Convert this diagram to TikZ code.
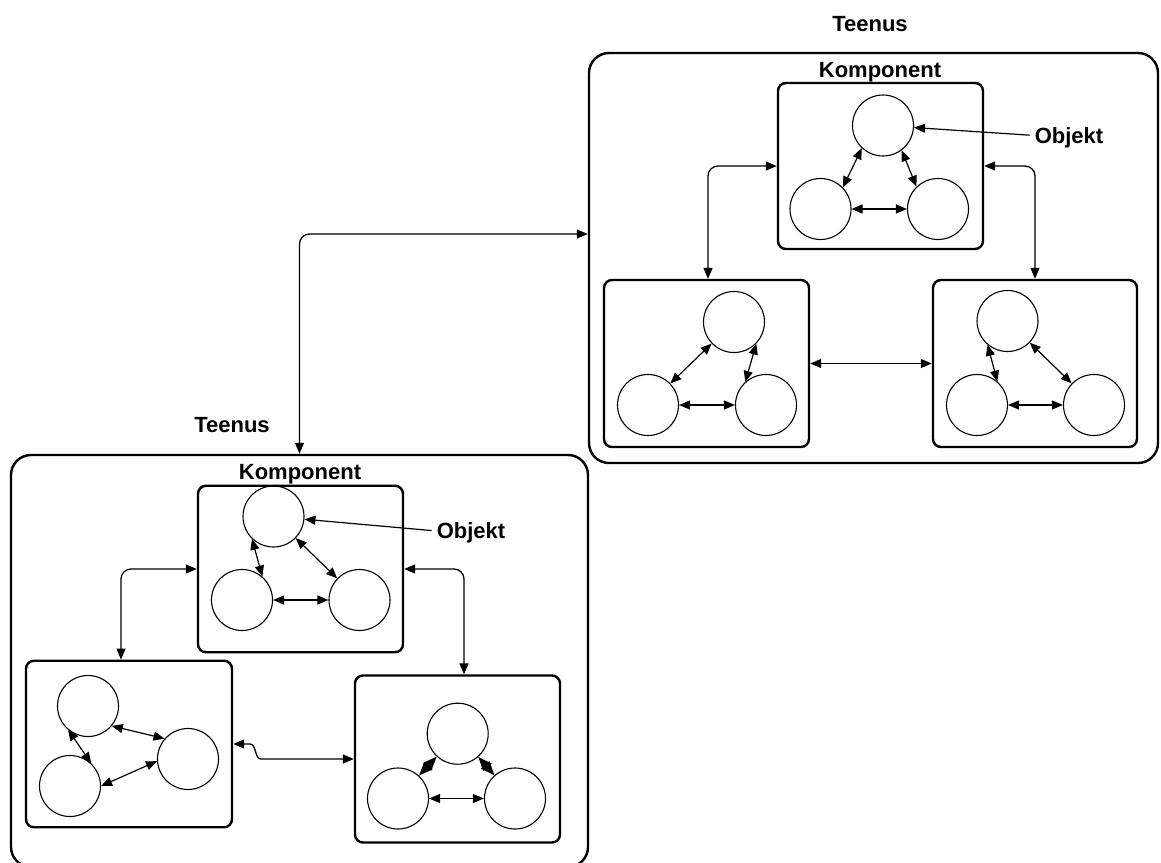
\documentclass[tikz,border=0pt]{standalone}
\usepackage{fontspec}
\setmainfont{Liberation Sans}
\usetikzlibrary{arrows.meta}

\begin{document}
\begin{tikzpicture}[x=1pt, y=-1pt,
  >={Triangle[length=11pt, width=9pt]},
  caption/.style={font=\bfseries\fontsize{22}{26}\selectfont, inner sep=0pt,
    text height=15.8pt, text depth=0pt},
  service/.style={draw, line width=2.4pt, rounded corners=20pt, inner sep=0pt},
  component/.style={draw, line width=2.4pt, rounded corners=8pt, inner sep=0pt},
  obj/.style={draw, circle, line width=1.1pt, minimum size=61pt, inner sep=0pt},
  link/.style={<->, line width=1.2pt},
  biglink/.style={<->, line width=1.2pt, >={Triangle[length=14pt, width=11pt]}},
  conn/.style={<->, line width=1.3pt, rounded corners=10pt},
  pointer/.style={->, line width=1.2pt, shorten <=5pt}]

\useasboundingbox (0,0) rectangle (1161,862);
\fill[white] (0,0) rectangle (1161,862);

% ---------- right service ----------
\node[caption] (teenusR) at (870,24) {Teenus};
\node[service, minimum width=569pt, minimum height=410pt] (rightouter) at (873.5,258) {};
\node[caption] (kompR) at (880,70) {Komponent};

\node[component, minimum width=205pt, minimum height=166pt] (rtop) at (880.5,166) {};
\node[component, minimum width=205pt, minimum height=167pt] (rbl) at (706.5,363.5) {};
\node[component, minimum width=204pt, minimum height=167pt] (rbr) at (1035,363.5) {};

\node[obj] (rtT) at (883,125.5) {};
\node[obj] (rtL) at (820.5,209) {};
\node[obj] (rtR) at (938,209) {};

\node[obj] (rlT) at (734,322) {};
\node[obj] (rlL) at (648,405) {};
\node[obj] (rlR) at (766,405) {};

\node[obj] (rrT) at (1007.5,321) {};
\node[obj] (rrL) at (977,405) {};
\node[obj] (rrR) at (1094,405) {};

\node[caption] (objR) at (1069,135.5) {Objekt};

\draw[link] (rtT.227) -- (rtL.44);
\draw[link] (rtT.307) -- (rtR.134);
\draw[link] (rtL) -- (rtR);

\draw[link] (rlT) -- (rlL);
\draw[link] (rlT.316) -- (rlR.132);
\draw[link] (rlL) -- (rlR);

\draw[link] (rrT.230) -- (rrL.49);
\draw[link] (rrT) -- (rrR);
\draw[link] (rrL) -- (rrR);

\draw[pointer] (objR.west) -- (rtT);

\draw[conn] (rtop.west) -| ([xshift=1.5pt]rbl.north);
\draw[conn] (rtop.east) -| (rbr.north);
\draw[conn] (rbl.east) -- (rbr.west);

% ---------- left service ----------
\node[caption] (teenusL) at (232,424.5) {Teenus};
\node[service, minimum width=577pt, minimum height=412pt] (leftouter) at (299.5,661) {};
\node[caption] (kompL) at (300,472) {Komponent};

\node[component, minimum width=205pt, minimum height=166.5pt] (ltop) at (300.5,569) {};
\node[component, minimum width=206pt, minimum height=166.5pt] (lbl) at (129,744) {};
\node[component, minimum width=205pt, minimum height=167pt] (lbr) at (457.5,759) {};

\node[obj] (ltT) at (273.5,516.5) {};
\node[obj] (ltL) at (242,600) {};
\node[obj] (ltR) at (359.5,600) {};

\node[obj] (lbT) at (88,706) {};
\node[obj] (lbL) at (70,786) {};
\node[obj] (lbR) at (188,759) {};

\node[obj] (lrT) at (457.7,733.7) {};
\node[obj] (lrL) at (398,798.5) {};
\node[obj] (lrR) at (515,798.5) {};

\node[caption] (objL) at (471,531) {Objekt};

\draw[link] (ltT.226) -- (ltL.49);
\draw[link] (ltT) -- (ltR);
\draw[link] (ltL) -- (ltR);

\draw[link] (lbT.230) -- (lbL.47);
\draw[link] (lbT.320) -- (lbR.139);
\draw[link] (lbL.0) -- (lbR.184);

\draw[biglink] (lrT) -- (lrL);
\draw[biglink] (lrT) -- (lrR);
\draw[link] (lrL) -- (lrR);

\draw[pointer] (objL.west) -- (ltT);

\draw[conn] (ltop.west) -| ([xshift=-8pt]lbl.north);
\draw[conn] (ltop.east) -| ([xshift=6.5pt]lbr.north);
\draw[<->, line width=1.3pt] (lbl.east) -- ++(17,0)
  .. controls +(6,0) and +(-6,0) .. ([xshift=-93pt]lbr.west) -- (lbr.west);

% ---------- link between the services ----------
\draw[conn] ([yshift=24pt]rightouter.west) -| (leftouter.north);

\end{tikzpicture}
\end{document}
